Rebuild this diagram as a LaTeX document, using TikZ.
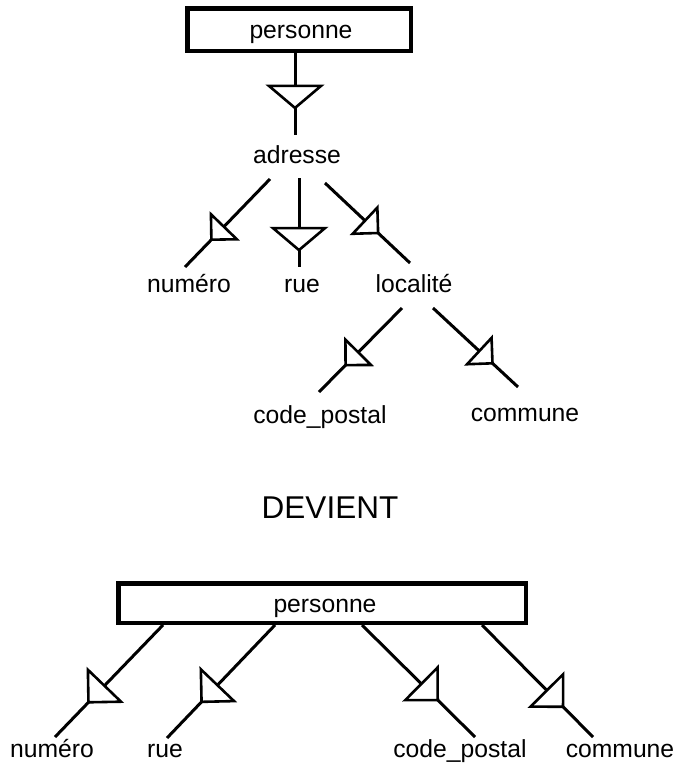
\documentclass[tikz,border=0pt]{standalone}
\usepackage{fontspec}
\setmainfont{Liberation Sans}
\usetikzlibrary{decorations.markings}

\begin{document}
\begin{tikzpicture}[x=1pt,y=-1pt,
  label/.style={font=\fontsize{24.7}{28}\selectfont, inner sep=0pt, anchor=base},
  entity/.style={draw, line width=4.5pt, inner sep=0pt},
  link/.style={line width=3pt},
  tri/.style={line width=2.6pt, line join=miter, fill=white},
  % decomposition symbol placed on a link, at a fraction of its length
  vtri/.style={postaction={decorate}, decoration={markings,
    mark=at position #1 with {\filldraw[tri] (0,0) -- (-22,26) -- (-22,-26) -- cycle;}}},
  dtri/.style={postaction={decorate}, decoration={markings,
    mark=at position #1 with {\filldraw[tri] (0,0) -- (-18,18) -- (-18,-18) -- cycle;}}},
  btri/.style={postaction={decorate}, decoration={markings,
    mark=at position #1 with {\filldraw[tri] (0,0) -- (-23,23) -- (-23,-23) -- cycle;}}}
]
\useasboundingbox (0,0) rectangle (675,764);

% ---------- nested structure ----------
\node[entity, minimum width=223.5pt, minimum height=42.5pt] (pers) at (299,29.5) {};
\node[label] (persT) at (301,38) {personne};
\node[label] (adresse) at (297,163) {adresse};
\node[label] (numero) at (189,292) {numéro};
\node[label] (rue) at (302,292) {rue};
\node[label] (localite) at (414,292) {localité};
\node[label] (cp) at (320,423) {code\_postal};
\node[label] (commune) at (525,421) {commune};

\coordinate (adrTop) at (295,135);
\coordinate (adrA) at (270,179);  \coordinate (numA) at (185,267);
\coordinate (adrB) at (299,178);  \coordinate (rueB) at (299,267);
\coordinate (adrC) at (325,183);  \coordinate (locC) at (410,263);
\coordinate (locA) at (402,308);  \coordinate (cpA) at (319,392);
\coordinate (locB) at (433,308);  \coordinate (comB) at (518,387);

\draw[link, vtri=0.67] (pers.south -| adrTop) -- (adrTop);
\draw[link, dtri=0.69] (adrA) -- (numA);
\draw[link, vtri=0.81] (adrB) -- (rueB);
\draw[link, dtri=0.625] (adrC) -- (locC);
\draw[link, dtri=0.68] (locA) -- (cpA);
\draw[link, dtri=0.70] (locB) -- (comB);

% ---------- transformation ----------
\node[font=\fontsize{31.5}{34}\selectfont, inner sep=0pt, anchor=base] (devient) at (330,518) {DEVIENT};

% ---------- flattened structure ----------
\node[entity, minimum width=407.5pt, minimum height=39.5pt] (pers2) at (322,603) {};
\node[label] (pers2T) at (325,612) {personne};
\node[label] (numero2) at (52,757) {numéro};
\node[label] (rue2) at (165,757) {rue};
\node[label] (cp2) at (460,757) {code\_postal};
\node[label] (commune2) at (620,757) {commune};

\coordinate (p2a) at (163,625);  \coordinate (n2) at (55,737);
\coordinate (p2b) at (275,625);  \coordinate (r2) at (167,738);
\coordinate (p2c) at (362,625);  \coordinate (c2) at (475,737);
\coordinate (p2d) at (482,625);  \coordinate (m2) at (593,737);

\draw[link, btri=0.69] (p2a) -- (n2);
\draw[link, btri=0.68] (p2b) -- (r2);
\draw[link, btri=0.67] (p2c) -- (c2);
\draw[link, btri=0.73] (p2d) -- (m2);
\end{tikzpicture}
\end{document}
